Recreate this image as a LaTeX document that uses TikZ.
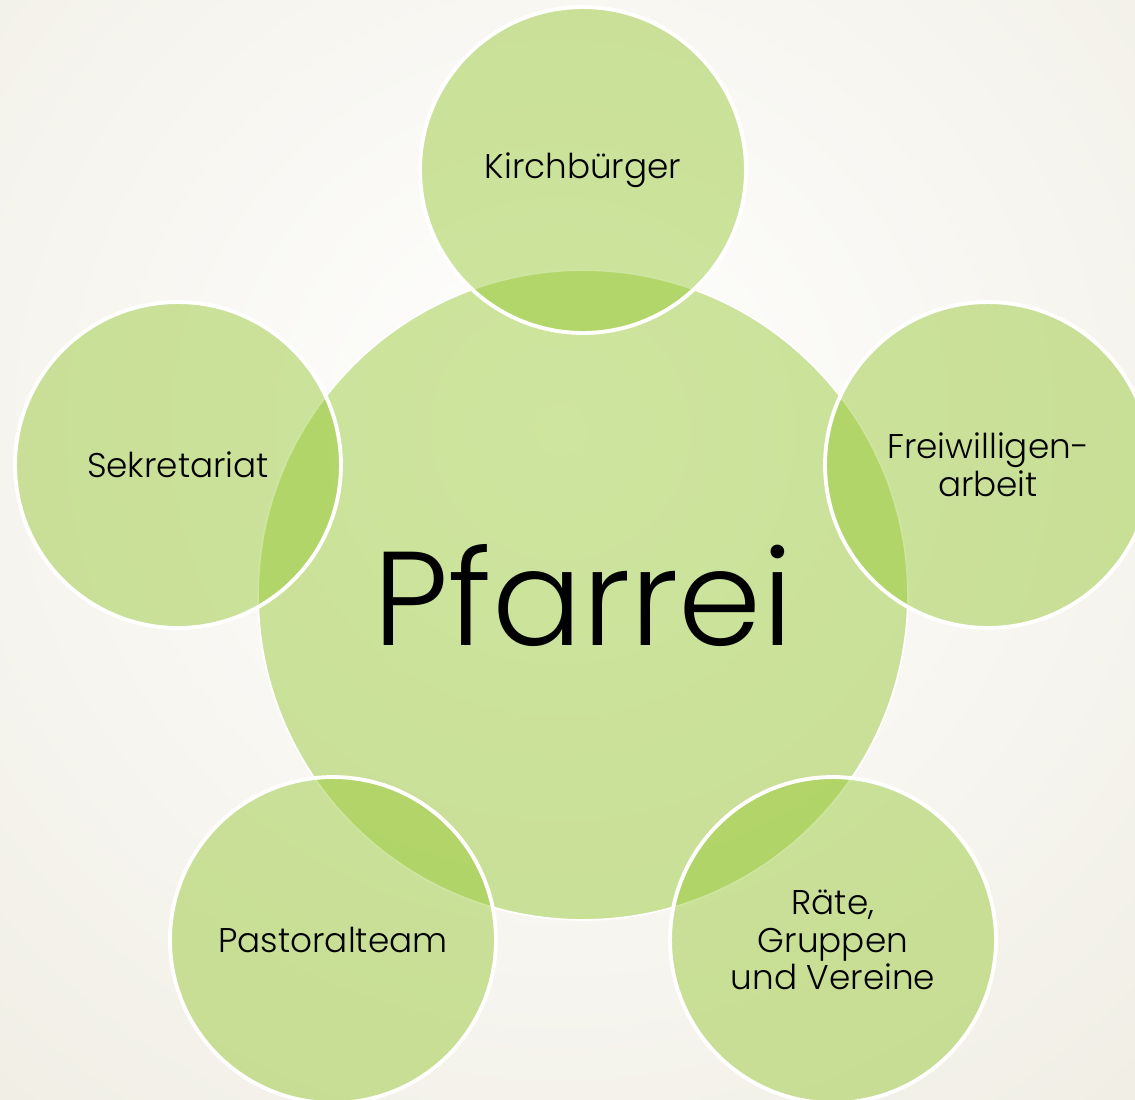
\documentclass[tikz,border=0pt]{standalone}
\usepackage{fontspec}
\setmainfont{Poppins Light}
\definecolor{kreisgruen}{RGB}{151,200,52}
\definecolor{hgbeige}{RGB}{233,230,216}

\begin{document}
\begin{tikzpicture}[x=0.02cm, y=-0.02cm,
    mitte/.style={
      circle,
      fill=kreisgruen, fill opacity=.47,
      draw=white, draw opacity=1, line width=1pt,
      text opacity=1,
      minimum size=13cm, inner sep=0pt,
      font=\fontsize{76}{76}\selectfont},
    kreis/.style={
      circle,
      fill=kreisgruen, fill opacity=.47,
      draw=white, draw opacity=1, line width=2.2pt,
      text opacity=1,
      minimum size=6.52cm, inner sep=0pt,
      align=center,
      font=\fontsize{19.5}{21.5}\selectfont}
    ]

  % Hintergrund
  \useasboundingbox (0,0) rectangle (1135,1099);
  \clip (0,0) rectangle (1135,1099);
  \shade[inner color=white, outer color=hgbeige] (560,430) circle (1300);

  \node at (583,595) (pfarrei) [mitte] {Pfarrei};

  \node at (583,170) (kirchbuerger) [kreis] {Kirchbürger};
  \node at (988,465) (freiwillige)  [kreis] {Freiwilligen-\\arbeit};
  \node at (833,940) (raete)        [kreis] {Räte,\\Gruppen\\und Vereine};
  \node at (333,940) (pastoral)     [kreis] {Pastoralteam};
  \node at (178,465) (sekretariat)  [kreis] {Sekretariat};

\end{tikzpicture}
\end{document}
